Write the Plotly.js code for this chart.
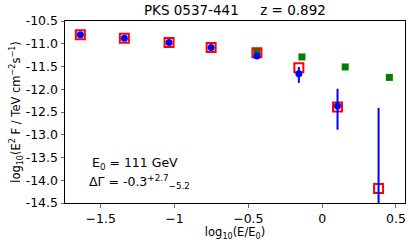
<!DOCTYPE html>
<html><head><meta charset="utf-8">
<script src="https://cdn.plot.ly/plotly-3.0.1.min.js"></script>
<style>body{margin:0;padding:0;background:#fff}#c{width:415px;height:247px}</style>
</head><body><div id="c"></div>
<script>
// observed (red open squares)
const obsX = [-1.638, -1.34, -1.037, -0.752, -0.442, -0.158, 0.104, 0.382];
const obsY = [-10.80, -10.88, -10.97, -11.08, -11.20, -11.53, -12.39, -14.18];
// model / fit points (blue circles with error bars)
const fitX = [-1.638, -1.34, -1.037, -0.752, -0.442, -0.158, 0.104, 0.382];
const fitY = [-10.80, -10.88, -10.97, -11.08, -11.27, -11.66, -12.37, -15.6];
const fitErrPlus = [0.02, 0.02, 0.02, 0.03, 0.04, 0.15, 0.38, 3.19];
const fitErrMinus = [0.02, 0.02, 0.02, 0.03, 0.04, 0.20, 0.52, 1.0];
// intrinsic (green squares)
const intX = [-0.442, -0.137, 0.156, 0.455];
const intY = [-11.17, -11.29, -11.51, -11.74];
const yTicks = [-10.5, -11.0, -11.5, -12.0, -12.5, -13.0, -13.5, -14.0, -14.5];
const yTickText = yTicks.map(v => v.toFixed(1));
const xTicks = [-1.5, -1.0, -0.5, 0.0, 0.5];

const font = "DejaVu Sans, sans-serif";
const traces = [
  {x: intX, y: intY, type: 'scatter', mode: 'markers',
   marker: {symbol: 'square', size: 7, color: '#008000'}, cliponaxis: true},
  {x: obsX, y: obsY, type: 'scatter', mode: 'markers',
   marker: {symbol: 'square-open', size: 9, color: '#ff0000', line: {width: 2, color: '#ff0000'}}, cliponaxis: true},
  {x: fitX, y: fitY, type: 'scatter', mode: 'markers',
   marker: {symbol: 'circle', size: 7, color: '#0000ff'},
   error_y: {type: 'data', symmetric: false, array: fitErrPlus, arrayminus: fitErrMinus,
             color: '#0000ff', thickness: 2, width: 0}, cliponaxis: true}
];
const layout = {
  width: 415, height: 247,
  margin: {l: 65, r: 10.3, t: 20.7, b: 43.7},
  paper_bgcolor: '#fff', plot_bgcolor: '#fff',
  showlegend: false,
  font: {family: font, color: '#000', size: 12},
  title: {text: 'PKS 0537-441     z = 0.892', font: {family: font, size: 13.5, color: '#000'},
          x: 0.566, xanchor: 'center', y: 0.978, yanchor: 'top'},
  xaxis: {range: [-1.742, 0.561], tickvals: xTicks, ticks: 'outside', ticklen: 3.5, tickwidth: 0.8,
          showgrid: false, zeroline: false, showline: true, mirror: true, linecolor: '#000', linewidth: 1,
          tickfont: {family: font, size: 12.5},
          title: {text: 'log<sub>10</sub>(E/E<sub>0</sub>)', font: {family: font, size: 11.5}, standoff: 3}},
  yaxis: {range: [-14.5, -10.5], tickvals: yTicks, ticktext: yTickText, ticks: 'outside', ticklen: 3.5, tickwidth: 0.8,
          showgrid: false, zeroline: false, showline: true, mirror: true, linecolor: '#000', linewidth: 1,
          tickfont: {family: font, size: 12.5},
          title: {text: 'log<sub>10</sub>(E<sup>2</sup> F / TeV cm<sup>\u22122</sup>s<sup>\u22121</sup>)', font: {family: font, size: 11.5}, standoff: 2}},
  annotations: [
    {xref: 'paper', yref: 'paper', x: 0.074, y: 0.215, xanchor: 'left', yanchor: 'middle', showarrow: false,
     text: 'E<sub>0</sub> = 111 GeV', font: {family: font, size: 12.5}},
    {xref: 'paper', yref: 'paper', x: 0.065, y: 0.115, xanchor: 'left', yanchor: 'middle', showarrow: false,
     text: '\u0394\u0393 = -0.3<sup>+2.7</sup><sub>\u22125.2</sub>', font: {family: font, size: 12.5}}
  ]
};
Plotly.newPlot('c', traces, layout, {staticPlot: true, displayModeBar: false});
</script></body></html>
